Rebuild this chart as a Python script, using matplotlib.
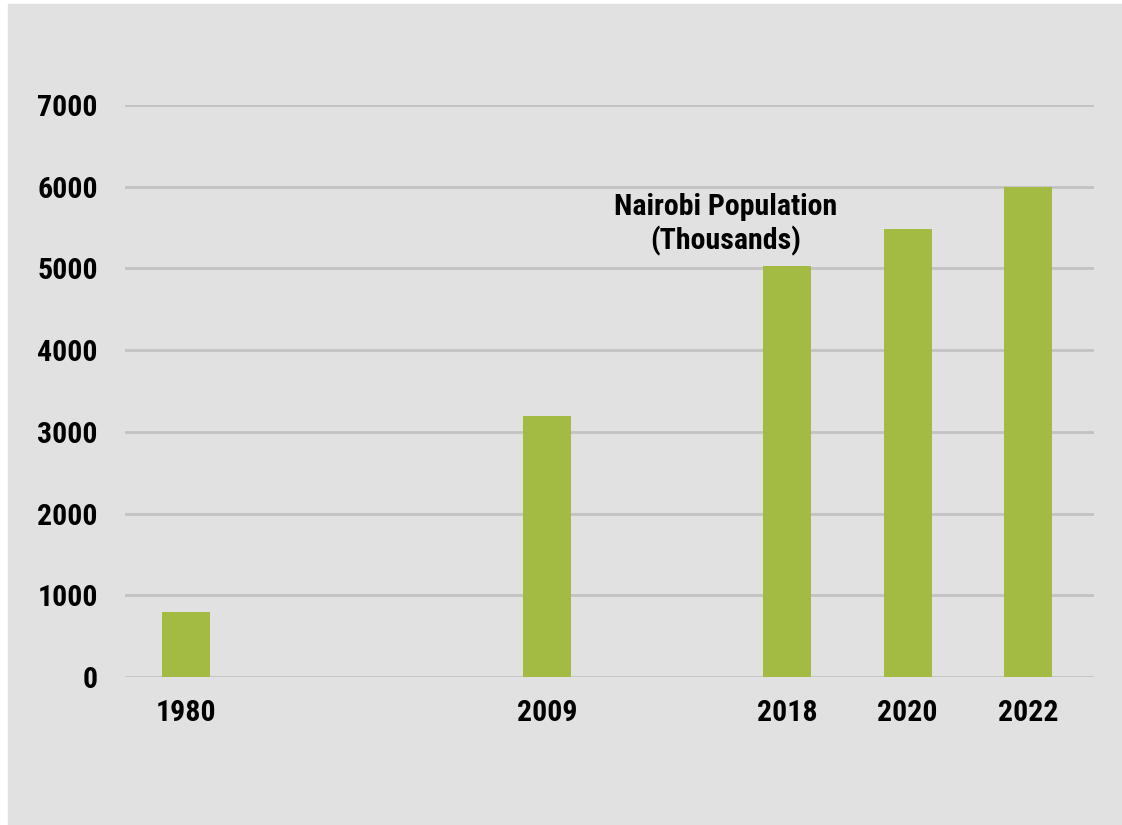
import matplotlib
matplotlib.use('Agg')
import matplotlib.pyplot as plt
import numpy as np

# category slots (blank slots keep the uneven spacing of the original)
years = ['1980', '', '', '2009', '', '2018', '2020', '2022']
population = [790, np.nan, np.nan, 3190, np.nan, 5030, 5480, 6000]
y_ticks = [0, 1000, 2000, 3000, 4000, 5000, 6000, 7000]
title = 'Nairobi Population\n(Thousands)'

bg = '#e1e1e1'
green = '#a3bb43'
grid = '#c2c2c2'
font = ['Roboto Condensed', 'Liberation Sans Narrow', 'DejaVu Sans']
txt = dict(family=font, fontweight='bold', fontstretch='condensed', fontsize=21.5)

fig = plt.figure(figsize=(11.22, 8.25), dpi=100, facecolor='white')
# gray panel with a thin white margin on the left and top
fig.patches.append(plt.Rectangle((8 / 1122, 0), 1, 1 - 4 / 825,
                                 transform=fig.transFigure, color=bg, zorder=-10))

ax = fig.add_axes([125 / 1122, 148 / 825, 969 / 1122, 572 / 825])
ax.set_facecolor('none')
ax.set_zorder(5)

x = np.arange(len(years))
ax.bar(x, population, width=0.4, color=green, zorder=3)

ax.set_ylim(0, 7000)
ax.set_xlim(-0.507, 7.55)
ax.set_yticks(y_ticks)
ax.set_yticklabels([str(v) for v in y_ticks], **txt)
ax.set_xticks([i for i, y in enumerate(years) if y])
ax.set_xticklabels([y for y in years if y], **txt)
ax.tick_params(axis='y', length=0, pad=19.5)
ax.tick_params(axis='x', length=0, pad=16)
for s in ax.spines.values():
    s.set_visible(False)
ax.grid(axis='y', color=grid, linewidth=2, zorder=0)
ax.set_axisbelow(True)

ax.text(4.49, 5535, title, ha='center', va='center', linespacing=1.2, **txt)

fig.savefig('out.png', dpi=100, facecolor=fig.get_facecolor())
